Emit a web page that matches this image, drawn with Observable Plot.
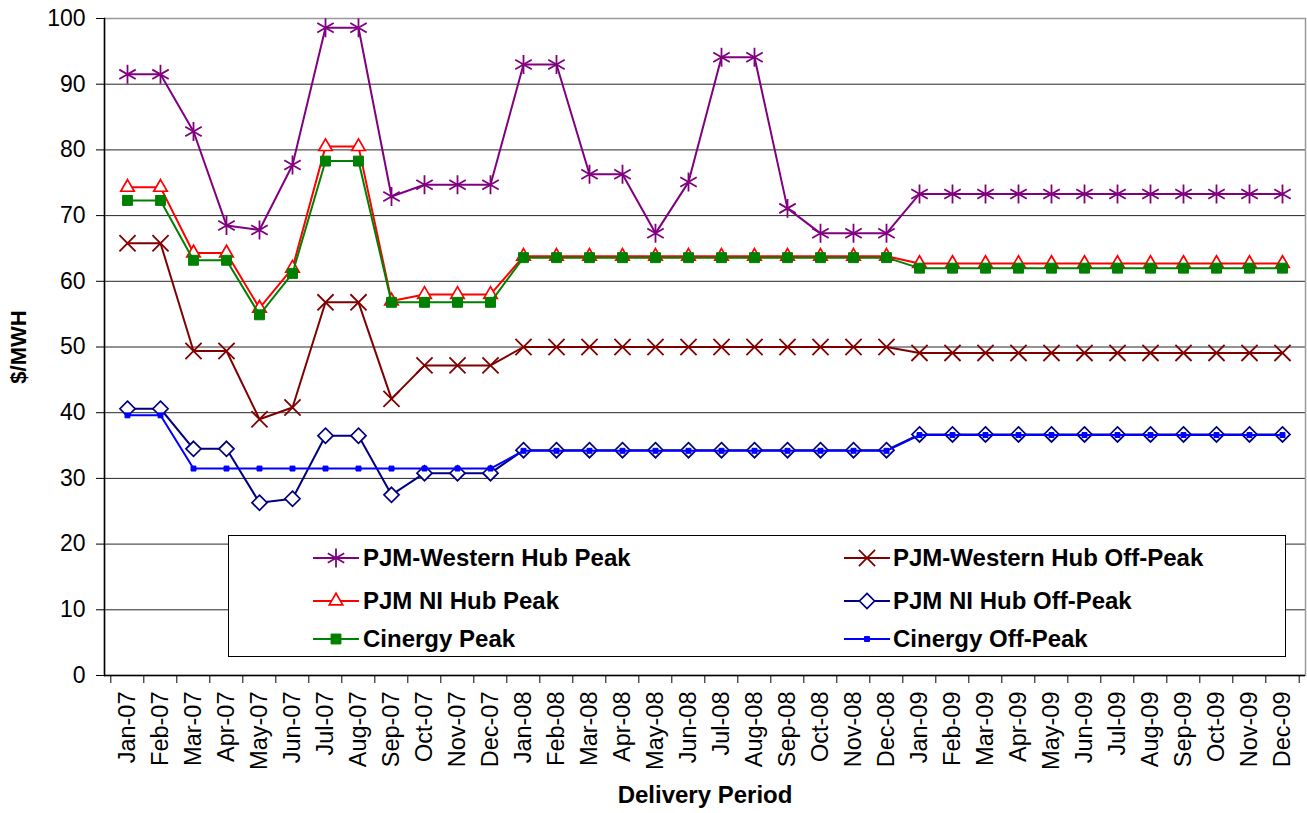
<!DOCTYPE html>
<html>
<head>
<meta charset="utf-8">
<script src="https://cdn.jsdelivr.net/npm/d3@7"></script>
<script src="https://cdn.jsdelivr.net/npm/@observablehq/plot@0.6"></script>
<style>
  html, body { margin: 0; padding: 0; background: #fff; }
  #wrap { position: relative; width: 1307px; height: 813px; font-family: "Liberation Sans", Arial, sans-serif; }
  #legend { position: absolute; left: 228px; top: 535px; width: 1058px; height: 122px; border: 1px solid #000; background: #fff; box-sizing: border-box; }
  .lab { position: absolute; font-weight: bold; color: #000; white-space: nowrap; }
</style>
</head>
<body>
<div id="wrap"></div>
<script>
const months = ["Jan-07","Feb-07","Mar-07","Apr-07","May-07","Jun-07","Jul-07","Aug-07","Sep-07","Oct-07","Nov-07","Dec-07",
  "Jan-08","Feb-08","Mar-08","Apr-08","May-08","Jun-08","Jul-08","Aug-08","Sep-08","Oct-08","Nov-08","Dec-08",
  "Jan-09","Feb-09","Mar-09","Apr-09","May-09","Jun-09","Jul-09","Aug-09","Sep-09","Oct-09","Nov-09","Dec-09"];
const yTicks = [0,10,20,30,40,50,60,70,80,90,100];

const pjmWesternPeak = [91.5,91.5,82.8,68.5,67.8,77.7,98.6,98.6,72.9,74.7,74.7,74.7,
  93.0,93.0,76.3,76.3,67.3,75.1,94.1,94.1,71.1,67.3,67.3,67.3,
  73.3,73.3,73.3,73.3,73.3,73.3,73.3,73.3,73.3,73.3,73.3,73.3];
const pjmWesternOff = [65.8,65.8,49.4,49.4,39.0,40.8,56.8,56.8,42.1,47.2,47.2,47.2,
  50.0,50.0,50.0,50.0,50.0,50.0,50.0,50.0,50.0,50.0,50.0,50.0,
  49.1,49.1,49.1,49.1,49.1,49.1,49.1,49.1,49.1,49.1,49.1,49.1];
const pjmNIPeak = [74.3,74.3,64.3,64.3,55.9,62.0,80.5,80.5,57.0,58.0,58.0,58.0,
  63.8,63.8,63.8,63.8,63.8,63.8,63.8,63.8,63.8,63.8,63.8,63.8,
  62.7,62.7,62.7,62.7,62.7,62.7,62.7,62.7,62.7,62.7,62.7,62.7];
const pjmNIOff = [40.6,40.6,34.5,34.5,26.3,26.9,36.5,36.5,27.5,30.8,30.8,30.8,
  34.3,34.3,34.3,34.3,34.3,34.3,34.3,34.3,34.3,34.3,34.3,34.3,
  36.7,36.7,36.7,36.7,36.7,36.7,36.7,36.7,36.7,36.7,36.7,36.7];
const cinergyPeak = [72.3,72.3,63.2,63.2,54.9,61.2,78.3,78.3,56.8,56.8,56.8,56.8,
  63.6,63.6,63.6,63.6,63.6,63.6,63.6,63.6,63.6,63.6,63.6,63.6,
  62.0,62.0,62.0,62.0,62.0,62.0,62.0,62.0,62.0,62.0,62.0,62.0];
const cinergyOff = [39.6,39.6,31.5,31.5,31.5,31.5,31.5,31.5,31.5,31.5,31.5,31.5,
  34.2,34.2,34.2,34.2,34.2,34.2,34.2,34.2,34.2,34.2,34.2,34.2,
  36.6,36.6,36.6,36.6,36.6,36.6,36.6,36.6,36.6,36.6,36.6,36.6];

const seriesNames = ["PJM-Western Hub Peak","PJM-Western Hub Off-Peak","PJM NI Hub Peak","PJM NI Hub Off-Peak","Cinergy Peak","Cinergy Off-Peak"];
const seriesValues = [pjmWesternPeak, pjmWesternOff, pjmNIPeak, pjmNIOff, cinergyPeak, cinergyOff];

const styles = [
  {color: "#800080", symbol: "asterisk", r: 9, fill: "none", sw: 1.8},
  {color: "#800000", symbol: "times", r: 7.4, fill: "none", sw: 1.8},
  {color: "#FF0000", symbol: "triangle", r: 5, fill: "#fff", sw: 1.7},
  {color: "#000080", symbol: "diamond2", r: 6.8, fill: "#fff", sw: 1.7},
  {color: "#008000", symbol: "square", r: 5.6, fill: "#008000", sw: 1},
  {color: "#0000FF", symbol: "square", r: 2.8, fill: "#0000FF", sw: 1}
];

const W = 1307, H = 813, mL = 104, mR = 2, mT = 18, mB = 138;
const step = (W - mL - mR) / months.length;

const data = [];
seriesNames.forEach((name, s) => {
  seriesValues[s].forEach((v, i) => data.push({series: name, s, month: months[i], value: v}));
});

const marks = [
  Plot.gridY(yTicks, {stroke: "#000", strokeOpacity: 0.85}),
  Plot.frame({stroke: "#9a9a9a", strokeWidth: 1.5}),
  Plot.axisY({ticks: yTicks, tickSize: 8, tickPadding: 11, fontSize: 23, label: null}),
  Plot.axisX({ticks: months, tickSize: 8, tickFormat: () => "", dx: -step / 2, label: null}),
  Plot.axisX({ticks: [months[months.length - 1]], tickSize: 8, tickFormat: () => "", dx: step / 2, label: null}),
  Plot.axisX({ticks: months, tickSize: 0, tickPadding: 16, tickRotate: -90, fontSize: 23.5, label: null}),
];
seriesNames.forEach((name, s) => {
  const st = styles[s];
  const d = data.filter(e => e.s === s);
  marks.push(Plot.line(d, {x: "month", y: "value", stroke: st.color, strokeWidth: 2}));
  marks.push(Plot.dot(d, {x: "month", y: "value", symbol: () => st.symbol, r: st.r, stroke: st.color, fill: st.fill, strokeWidth: st.sw}));
});
marks.push(Plot.ruleY([0], {stroke: "#000", strokeWidth: 1.5}));
marks.push(Plot.frame({anchor: "left", stroke: "#000", strokeWidth: 1.5}));

const chart = Plot.plot({
  width: W, height: H,
  marginLeft: mL, marginRight: mR, marginTop: mT, marginBottom: mB,
  style: {fontFamily: '"Liberation Sans", Arial, sans-serif', fontSize: "22px", color: "#000", background: "#fff"},
  x: {type: "point", domain: months, padding: 0.5},
  y: {domain: [0, 100]},
  symbol: {type: "identity"},
  marks
});

const wrap = document.getElementById("wrap");
wrap.appendChild(chart);

// axis titles
const xl = document.createElement("div");
xl.className = "lab"; xl.textContent = "Delivery Period";
xl.style.cssText = "left:0;width:1410px;text-align:center;top:781px;font-size:24px;";
wrap.appendChild(xl);
const yl = document.createElement("div");
yl.className = "lab"; yl.textContent = "$/MWH";
yl.style.cssText = "left:19px;top:347px;font-size:22px;transform:translate(-50%,-50%) rotate(-90deg);";
wrap.appendChild(yl);

// legend
const legend = document.createElement("div");
legend.id = "legend";
wrap.appendChild(legend);
const rows = [22, 65, 103];
const cols = [{line: 84, text: 134}, {line: 615, text: 664}];
seriesNames.forEach((name, s) => {
  const st = styles[s];
  const c = cols[s % 2], ry = rows[Math.floor(s / 2)];
  const svg = d3.create("svg").attr("width", 50).attr("height", 24)
    .style("position", "absolute").style("left", c.line + "px").style("top", (ry - 12) + "px").style("overflow", "visible");
  svg.append("line").attr("x1", 0).attr("x2", 46).attr("y1", 12).attr("y2", 12).attr("stroke", st.color).attr("stroke-width", 2);
  const sym = {asterisk: d3.symbolAsterisk, times: d3.symbolTimes, triangle: d3.symbolTriangle, diamond2: d3.symbolDiamond2, square: d3.symbolSquare}[st.symbol];
  svg.append("path").attr("transform", "translate(23,12)")
    .attr("d", d3.symbol(sym, Math.PI * st.r * st.r)())
    .attr("stroke", st.color).attr("fill", st.fill).attr("stroke-width", st.sw);
  legend.appendChild(svg.node());
  const t = document.createElement("div");
  t.className = "lab"; t.textContent = name;
  t.style.cssText = `left:${c.text}px;top:${ry - 14}px;font-size:24px;line-height:28px;`;
  legend.appendChild(t);
});
</script>
</body>
</html>
